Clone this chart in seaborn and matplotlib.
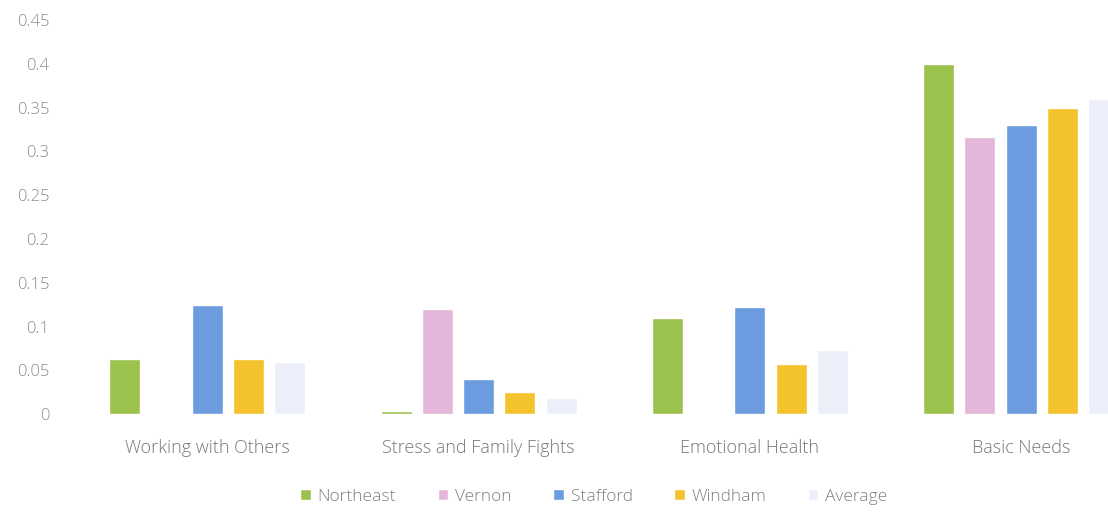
import pandas as pd
import matplotlib.pyplot as plt
import seaborn as sns

# Data
categories = ["Working with Others", "Stress and Family Fights", "Emotional Health", "Basic Needs"]
regions = ["Northeast", "Vernon", "Stafford", "Windham", "Average"]
northeast = [0.0625, 0.004, 0.11, 0.40]
vernon = [0.0, 0.12, 0.0, 0.317]
stafford = [0.125, 0.04, 0.122, 0.33]
windham = [0.0625, 0.025, 0.057, 0.35]
average = [0.06, 0.018, 0.073, 0.36]
yticks = [0, 0.05, 0.1, 0.15, 0.2, 0.25, 0.3, 0.35, 0.4, 0.45]

colors = ["#9cc24e", "#e4b6d9", "#6c9be0", "#f4c22c", "#eceff9"]

rows = []
for region, vals in zip(regions, [northeast, vernon, stafford, windham, average]):
    for cat, v in zip(categories, vals):
        rows.append({"category": cat, "region": region, "value": v})
df = pd.DataFrame(rows)

sns.set_style("white")
plt.rcParams['font.family'] = ['Open Sans', 'DejaVu Sans']
plt.rcParams['font.weight'] = 'light'

fig = plt.figure(figsize=(11.08, 5.15), dpi=100)
ax = fig.add_axes([0.072, 0.196, 0.928, 0.765])

sns.barplot(data=df, x="category", y="value", hue="region", hue_order=regions,
            palette=colors, saturation=1, width=0.76, gap=0.25, ax=ax, legend=True)

ax.set_xlim(-0.47, 3.32)
ax.set_ylim(0, 0.45)
ax.set_yticks(yticks)
ax.set_yticklabels(["0", "0.05", "0.1", "0.15", "0.2", "0.25", "0.3", "0.35", "0.4", "0.45"])
ax.tick_params(axis="y", colors="#8c8c8c", labelsize=12, length=0, pad=22)
ax.tick_params(axis="x", colors="#777777", labelsize=13, length=0, pad=18)
ax.set_xlabel("")
ax.set_ylabel("")
sns.despine(ax=ax, left=True, bottom=True)

handles, labels = ax.get_legend_handles_labels()
ax.legend(handles, labels, loc="center", bbox_to_anchor=(0.5, -0.21),
          ncol=5, frameon=False, fontsize=12.5, handlelength=0.6, handleheight=0.6,
          handletextpad=0.4, columnspacing=2.4, labelcolor="#808080")

fig.savefig("out.png", dpi=100)
